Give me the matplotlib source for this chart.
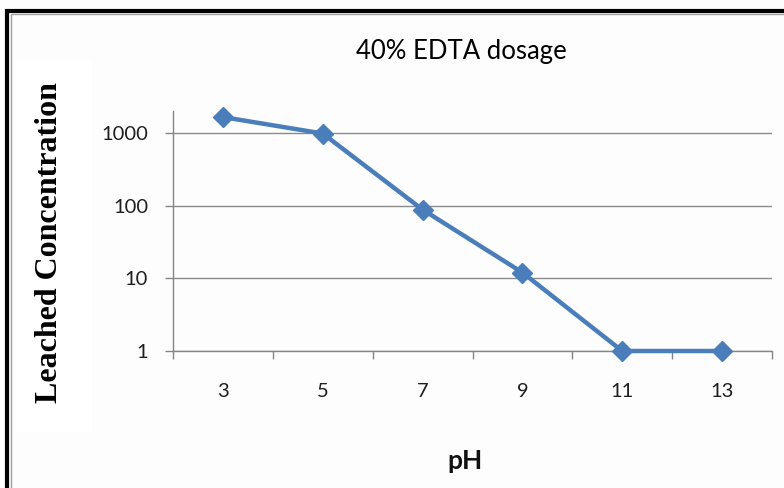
import matplotlib
matplotlib.use("Agg")
import matplotlib.pyplot as plt
from matplotlib.patches import Rectangle
import numpy as np

ph_labels = ["3", "5", "7", "9", "11", "13"]
leached = [1650, 980, 88, 12, 1.0, 1.0]
ytick_vals = [1, 10, 100, 1000]
ytick_labels = ["1", "10", "100", "1000"]

W, H = 784, 488
fig = plt.figure(figsize=(W / 100, H / 100), dpi=100)
fig.patch.set_facecolor("#FDFDFD")

# outer frame (black thick + gray inner)
fig.add_artist(Rectangle((7 / W, -0.1), 1.2, (H - 11.5) / H + 0.1, transform=fig.transFigure,
                         fill=False, edgecolor="black", linewidth=3.0))
fig.add_artist(Rectangle((11 / W, -0.1), 1.2, (H - 14) / H + 0.1, transform=fig.transFigure,
                         fill=False, edgecolor="#A0A0A0", linewidth=1.0))
# white box behind y label
fig.add_artist(Rectangle((16 / W, (H - 432) / H), 76 / W, 372 / H, transform=fig.transFigure,
                         facecolor="white", edgecolor="none"))

ax = fig.add_axes([173 / W, (H - 351) / H, (772 - 173) / W, (351 - 111) / H])
ax.set_facecolor("#FDFDFD")
x = np.arange(len(ph_labels)) + 0.5
ax.plot(x, leached, color="#4A7EBB", linewidth=3.2, marker="D", markersize=10,
        markerfacecolor="#4A7EBB", markeredgecolor="#4A7EBB", zorder=3, clip_on=False)
ax.set_yscale("log")
ax.set_ylim(1, 2000)
ax.set_xlim(0, len(ph_labels))
ax.set_yticks(ytick_vals)
ax.set_yticklabels(ytick_labels)
ax.yaxis.set_minor_locator(matplotlib.ticker.NullLocator())
ax.set_xticks(np.arange(len(ph_labels) + 1))
ax.set_xticklabels([])
ax.set_xticks(x, minor=True)
ax.set_xticklabels(ph_labels, minor=True)
ax.tick_params(axis="x", which="minor", length=0, pad=23, labelsize=14.5, labelcolor="#1E1E1E")
ax.tick_params(axis="x", which="major", length=6, width=1, color="#868686", direction="out")
ax.tick_params(axis="y", which="major", length=6, width=1, color="#868686", direction="out",
               pad=12, labelsize=14.5, labelcolor="#1E1E1E")
for lab in ax.get_xticklabels(minor=True) + ax.get_yticklabels():
    lab.set_family("Lato")
ax.grid(axis="y", which="major", color="#8C8C8C", linewidth=1)
ax.set_axisbelow(True)
for s in ["top", "right"]:
    ax.spines[s].set_visible(False)
for s in ["left", "bottom"]:
    ax.spines[s].set_color("#868686")
    ax.spines[s].set_linewidth(1)

fig.text(461 / W, 1 - 51 / H, "40% EDTA dosage", ha="center", va="center",
         fontsize=18.5, family="Lato", color="#000000")
fig.text(465 / W, 1 - 461 / H, "pH", ha="center", va="center", fontsize=19,
         fontweight="bold", family="Lato", color="#111111")
fig.text(50 / W, 1 - 243 / H, "Leached Concentration", ha="center", va="center",
         rotation=90, fontsize=23, fontweight="bold", family="Liberation Serif", color="black")

fig.savefig("out.png", dpi=100, facecolor=fig.get_facecolor())
